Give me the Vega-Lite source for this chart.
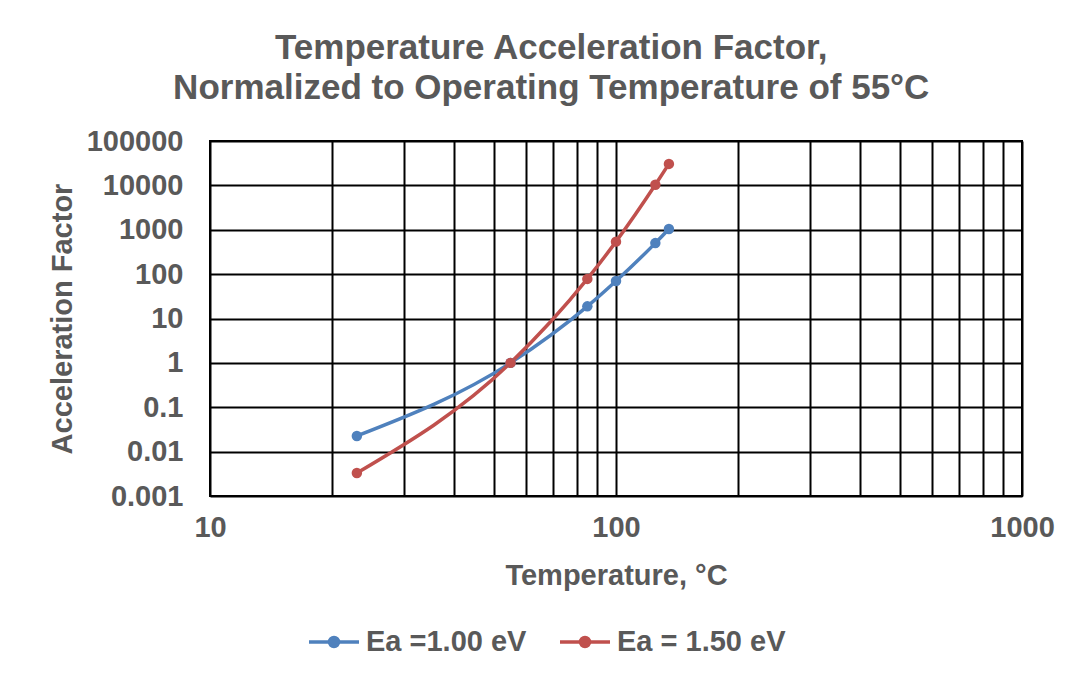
{
  "$schema": "https://vega.github.io/schema/vega-lite/v6.json",
  "width": 812,
  "height": 355,
  "padding": {"left": 48, "top": 31, "right": 0, "bottom": 0},
  "background": "white",
  "config": {
    "font": "Liberation Sans",
    "view": {"stroke": "#000", "strokeWidth": 2}
  },
  "title": {
    "text": ["Temperature Acceleration Factor,", "Normalized to Operating Temperature of 55°C"],
    "fontSize": 35,
    "fontWeight": "bold",
    "color": "#595959",
    "lineHeight": 40,
    "frame": "bounds",
    "anchor": "middle",
    "offset": 21
  },
  "data": {
    "values": [
      {"temp": 23, "af": 0.0225, "series": "Ea =1.00 eV"},
      {"temp": 55, "af": 1, "series": "Ea =1.00 eV"},
      {"temp": 85, "af": 18.8, "series": "Ea =1.00 eV"},
      {"temp": 100, "af": 70, "series": "Ea =1.00 eV"},
      {"temp": 125, "af": 500, "series": "Ea =1.00 eV"},
      {"temp": 135, "af": 1040, "series": "Ea =1.00 eV"},
      {"temp": 23, "af": 0.0033, "series": "Ea = 1.50 eV"},
      {"temp": 55, "af": 1, "series": "Ea = 1.50 eV"},
      {"temp": 85, "af": 78, "series": "Ea = 1.50 eV"},
      {"temp": 100, "af": 540, "series": "Ea = 1.50 eV"},
      {"temp": 125, "af": 10300, "series": "Ea = 1.50 eV"},
      {"temp": 135, "af": 30500, "series": "Ea = 1.50 eV"}
    ]
  },
  "encoding": {
    "x": {
      "field": "temp",
      "type": "quantitative",
      "scale": {"type": "log", "domain": [10, 1000], "nice": false},
      "axis": {
        "title": "Temperature, °C",
        "titleFontSize": 29,
        "titleFontWeight": "bold",
        "titleColor": "#595959",
        "titlePadding": 19,
        "labelFontSize": 29,
        "labelFontWeight": "bold",
        "labelColor": "#595959",
        "labelPadding": 17,
        "labelOverlap": false,
        "labelFlush": false,
        "ticks": false,
        "domain": false,
        "grid": true,
        "gridColor": "#000",
        "gridWidth": 2,
        "gridOpacity": 1,
        "values": [10, 20, 30, 40, 50, 60, 70, 80, 90, 100, 200, 300, 400, 500, 600, 700, 800, 900, 1000],
        "labelExpr": "(datum.value == 10 || datum.value == 100 || datum.value == 1000) ? format(datum.value, 'd') : ''"
      }
    },
    "y": {
      "field": "af",
      "type": "quantitative",
      "scale": {"type": "log", "domain": [0.001, 100000], "nice": false},
      "axis": {
        "title": "Acceleration Factor",
        "titleFontSize": 29,
        "titleFontWeight": "bold",
        "titleColor": "#595959",
        "titlePadding": 9,
        "labelFontSize": 29,
        "labelFontWeight": "bold",
        "labelColor": "#595959",
        "labelPadding": 27,
        "labelOverlap": false,
        "labelFlush": false,
        "ticks": false,
        "domain": false,
        "grid": true,
        "gridColor": "#000",
        "gridWidth": 2,
        "gridOpacity": 1,
        "values": [0.001, 0.01, 0.1, 1, 10, 100, 1000, 10000, 100000],
        "format": "~g"
      }
    },
    "color": {
      "field": "series",
      "type": "nominal",
      "scale": {"domain": ["Ea =1.00 eV", "Ea = 1.50 eV"], "range": ["#4F81BD", "#C0504D"]},
      "legend": {
        "orient": "none",
        "legendX": 97,
        "legendY": 474,
        "direction": "horizontal",
        "title": null,
        "padding": 0,
        "symbolType": "M-1,0H1M-0.18,0A0.18,0.18,0,1,1,0.18,0A0.18,0.18,0,1,1,-0.18,0Z",
        "symbolSize": 2500,
        "symbolStrokeWidth": 3.5,
        "labelFontSize": 29,
        "labelFontWeight": "bold",
        "labelColor": "#595959",
        "labelOffset": 5,
        "labelLimit": 400,
        "columnPadding": 26,
        "encode": {
          "symbols": {
            "update": {
              "fill": {"scale": "color", "field": "value"},
              "stroke": {"scale": "color", "field": "value"},
              "opacity": {"value": 1},
              "fillOpacity": {"value": 1}
            }
          }
        }
      }
    }
  },
  "layer": [
    {"mark": {"type": "line", "interpolate": "monotone", "strokeWidth": 3.5}},
    {"mark": {"type": "point", "filled": true, "size": 110, "opacity": 1}}
  ]
}
